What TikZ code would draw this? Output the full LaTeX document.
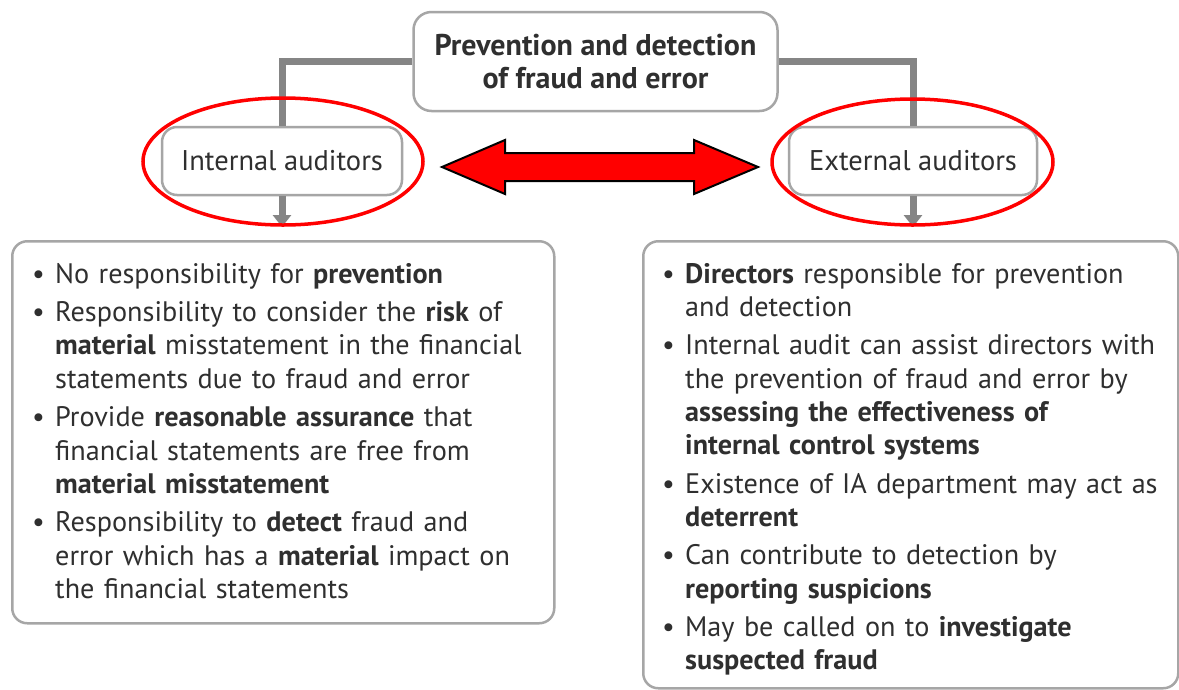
\documentclass[tikz,border=0pt]{standalone}
\usepackage{fontspec}
\setmainfont{PT Sans}
\usetikzlibrary{arrows.meta,shapes.geometric}
\definecolor{txt}{HTML}{2F2F2F}
\definecolor{boxgray}{HTML}{A6A6A6}
\definecolor{conngray}{HTML}{858585}
\newcommand{\bfirst}{\noindent\hangindent=23pt\hangafter=1\makebox[23pt][l]{\textbullet}}
\newcommand{\bitem}{\par\bfirst}
\begin{document}
\begin{tikzpicture}[x=1pt,y=-1pt,
  box/.style={draw=boxgray, line width=2.5pt, rounded corners=18pt, fill=white, text=txt, inner sep=0pt},
  conn/.style={draw=conngray, line width=7pt, line join=miter},
  connarrow/.style={conn, -{Triangle[length=12pt,width=18pt]}, shorten >=13pt},
  redring/.style={draw=red, line width=3.5pt, ellipse, inner sep=0pt},
  body/.style={anchor=base west, text=txt, align=left, inner sep=0pt, text width=600pt,
    font=\fontsize{28.2}{33.4}\selectfont},
  bigarrow/.style={fill=red, draw=black, line width=2pt, line join=miter}
]
\useasboundingbox (0,0) rectangle (1179,689);
\fill[white] (0,0) rectangle (1179,689);

% boxes
\node[box, minimum width=364pt, minimum height=99pt, align=center,
      font=\fontsize{30}{33}\selectfont\bfseries] (top) at (595.5,61.5)
      {Prevention and detection\\of fraud and error};
\node[box, rounded corners=15pt, minimum width=240pt, minimum height=68pt,
      font=\fontsize{28.5}{30}\selectfont] (int) at (282,161) {Internal auditors};
\node[box, rounded corners=15pt, minimum width=248pt, minimum height=68pt,
      font=\fontsize{28.5}{30}\selectfont] (ext) at (913,161) {External auditors};
\node[box, rounded corners=15pt, minimum width=542pt, minimum height=382pt,
      anchor=north west] (lb) at (11,240) {};
\node[box, rounded corners=15pt, minimum width=535pt, minimum height=447pt,
      anchor=north west] (rb) at (642,240) {};

% connectors
\draw[conn] (top.west) -| (int.north);
\draw[conn] (top.east) -| (ext.north);
\draw[connarrow] (int.south) -- (int.south |- lb.north);
\draw[connarrow] (ext.south) -- (ext.south |- rb.north);

% red rings
\node[redring, minimum width=280pt, minimum height=127pt] (e1) at (283,161.5) {};
\node[redring, minimum width=281pt, minimum height=126pt] (e2) at (912.5,162) {};

% red double arrow
\coordinate (da) at (600,167);
\draw[bigarrow] (442,167) -- (505,140) -- (505,153) -- (694,153) -- (694,140)
  -- (758,167) -- (694,194) -- (694,181) -- (505,181) -- (505,194) -- cycle;

% texts
\node[body] (lt) at (32,283) {\setlength{\parskip}{5pt}%
\bfirst No responsibility for \textbf{prevention}
\bitem Responsibility to consider the \textbf{risk} of\newline
\textbf{material} misstatement in the financial\newline
statements due to fraud and error
\bitem Provide \textbf{reasonable assurance} that\newline
financial statements are free from\newline
\textbf{material misstatement}
\bitem Responsibility to \textbf{detect} fraud and\newline
error which has a \textbf{material} impact on\newline
the financial statements\par};

\node[body] (rt) at (662,283) {\setlength{\parskip}{4.8pt}%
\bfirst \textbf{Directors} responsible for prevention\newline
and detection
\bitem Internal audit can assist directors with\newline
the prevention of fraud and error by\newline
\textbf{assessing the effectiveness of}\newline
\textbf{internal control systems}
\bitem Existence of IA department may act as\newline
\textbf{deterrent}
\bitem Can contribute to detection by\newline
\textbf{reporting suspicions}
\bitem May be called on to \textbf{investigate}\newline
\textbf{suspected fraud}\par};
\end{tikzpicture}
\end{document}
